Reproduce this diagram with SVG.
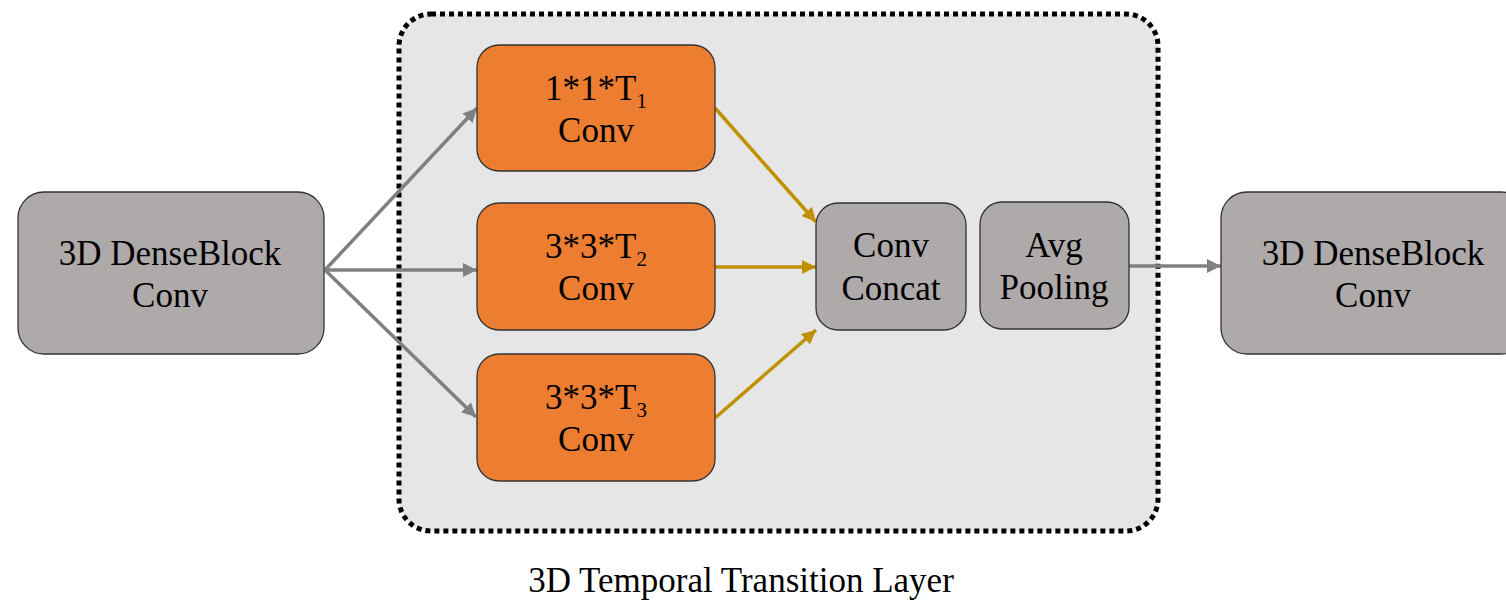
<svg xmlns="http://www.w3.org/2000/svg" width="1506" height="600" viewBox="0 0 1506 600">
<defs>
<marker id="ag" viewBox="0 0 10 10" refX="10" refY="5" markerWidth="4" markerHeight="4" orient="auto" markerUnits="strokeWidth"><path d="M0,0 L10,5 L0,10 z" fill="#808080"/></marker>
<marker id="ay" viewBox="0 0 10 10" refX="10" refY="5" markerWidth="4" markerHeight="4" orient="auto" markerUnits="strokeWidth"><path d="M0,0 L10,5 L0,10 z" fill="#c09000"/></marker>
<style>
.t{font-size:35px;fill:#000;text-anchor:middle}
.s{font-size:21px}
.gray{fill:#aeaaaa;stroke:#333;stroke-width:1.3}
.org{fill:#ed7d31;stroke:#333;stroke-width:1.3}
.cg{stroke:#808080;stroke-width:3.5;fill:none;marker-end:url(#ag)}
.cy{stroke:#c09000;stroke-width:3.5;fill:none;marker-end:url(#ay)}
</style>
</defs>
<rect width="1506" height="600" fill="#fff"/>
<g id="container">
<rect x="399" y="14" width="759" height="517" rx="32" fill="#e6e6e6" stroke="#000" stroke-width="5" stroke-dasharray="5 4"/>
<text class="t" x="741" y="592" font-family="'Liberation Serif', 'Times New Roman', serif">3D Temporal Transition Layer</text>
</g>
<g id="connectors">
<path class="cg" d="M325,270 L477,108"/>
<path class="cg" d="M325,270 L477,270"/>
<path class="cg" d="M325,270 L476,417"/>
<path class="cy" d="M715,108 L816,222"/>
<path class="cy" d="M715,267 L816,267"/>
<path class="cy" d="M715,418 L816,330"/>
<path class="cg" d="M1129,266 L1221,266"/>
</g>
<g id="n_in">
<rect class="gray" x="18" y="192" width="306" height="162" rx="26"/>
<text class="t" x="170" y="265" font-family="'Liberation Serif', 'Times New Roman', serif">3D DenseBlock</text>
<text class="t" x="170" y="307" font-family="'Liberation Serif', 'Times New Roman', serif">Conv</text>
</g>
<g id="n_t1">
<rect class="org" x="477" y="45" width="238" height="126" rx="22"/>
<text class="t" x="596" y="100" font-family="'Liberation Serif', 'Times New Roman', serif">1*1*T<tspan class="s" dy="8">1</tspan></text>
<text class="t" x="596" y="142" font-family="'Liberation Serif', 'Times New Roman', serif">Conv</text>
</g>
<g id="n_t2">
<rect class="org" x="477" y="203" width="238" height="127" rx="22"/>
<text class="t" x="596" y="258" font-family="'Liberation Serif', 'Times New Roman', serif">3*3*T<tspan class="s" dy="8">2</tspan></text>
<text class="t" x="596" y="300" font-family="'Liberation Serif', 'Times New Roman', serif">Conv</text>
</g>
<g id="n_t3">
<rect class="org" x="477" y="354" width="238" height="127" rx="22"/>
<text class="t" x="596" y="409" font-family="'Liberation Serif', 'Times New Roman', serif">3*3*T<tspan class="s" dy="8">3</tspan></text>
<text class="t" x="596" y="451" font-family="'Liberation Serif', 'Times New Roman', serif">Conv</text>
</g>
<g id="n_concat">
<rect class="gray" x="816" y="203" width="150" height="127" rx="22"/>
<text class="t" x="891" y="257" font-family="'Liberation Serif', 'Times New Roman', serif">Conv</text>
<text class="t" x="891" y="300" font-family="'Liberation Serif', 'Times New Roman', serif">Concat</text>
</g>
<g id="n_pool">
<rect class="gray" x="980" y="202" width="149" height="127" rx="22"/>
<text class="t" x="1054" y="257" font-family="'Liberation Serif', 'Times New Roman', serif">Avg</text>
<text class="t" x="1054" y="299" font-family="'Liberation Serif', 'Times New Roman', serif">Pooling</text>
</g>
<g id="n_out">
<rect class="gray" x="1221" y="192" width="306" height="162" rx="26"/>
<text class="t" x="1373" y="265" font-family="'Liberation Serif', 'Times New Roman', serif">3D DenseBlock</text>
<text class="t" x="1373" y="307" font-family="'Liberation Serif', 'Times New Roman', serif">Conv</text>
</g>
</svg>
